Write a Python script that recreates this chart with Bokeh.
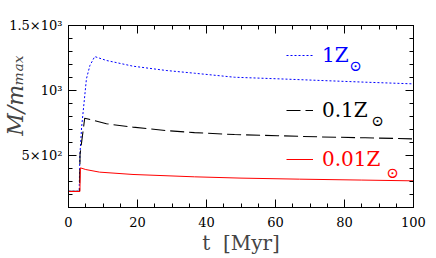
import math
from bokeh.plotting import figure
from bokeh.models import (LinearAxis, SingleIntervalTicker, Range1d, Legend, LegendItem,
                          Label, CustomJSTickFormatter)
from bokeh.embed import file_html
from bokeh.resources import INLINE

# ---- data ----
t_z1 = [0, 3.1, 3.3, 3.8, 5.2, 6.2, 7.6, 11, 18.7, 28.3, 36.5, 48.1, 60.6, 73.2, 86, 100]
m_z1 = [225, 225, 500, 718, 1090, 1192, 1261, 1231, 1187, 1154, 1133, 1102, 1090, 1077, 1064, 1051]

t_z01 = [0, 3.2, 3.35, 4.7, 11, 18.7, 28.3, 36.5, 48.1, 60.6, 73.2, 86, 100]
m_z01 = [225, 225, 510, 787, 744, 718, 692, 676, 661, 652, 643, 636, 628]

t_z001 = [0, 3.3, 3.45, 5, 9, 18.7, 36.5, 50, 67, 85, 100]
m_z001 = [223, 223, 405, 392, 372, 354, 336, 326, 318, 311, 305]

labels = ["1Z", "0.1Z", "0.01Z"]
y_tick_labels = {500: "5×10²", 1000: "10³", 1500: "1.5×10³"}
x_title = "t\u00a0\u00a0[Myr]"
y_title = "M/mₘₐₓ"

NBSP = "\u00a0"
W, H = 436, 258
p = figure(width=W, height=H, output_backend="svg", toolbar_location=None,
           x_range=Range1d(0, 100), y_range=Range1d(100, 1500),
           min_border_left=67, min_border_right=23, min_border_top=25, min_border_bottom=51,
           x_axis_location=None, y_axis_location=None)
p.xgrid.visible = False
p.ygrid.visible = False
p.outline_line_color = "black"
p.background_fill_color = "white"
p.border_fill_color = "white"

SERIF = "DejaVu Serif"

def style_axis(ax, ticker, show_labels, standoff):
    ax.ticker = ticker
    ax.major_tick_in = 8
    ax.major_tick_out = 0
    ax.minor_tick_in = 4
    ax.minor_tick_out = 0
    ax.axis_line_color = "black"
    ax.major_tick_line_color = "black"
    ax.minor_tick_line_color = "black"
    ax.major_label_text_font = SERIF
    ax.major_label_text_font_size = "13px"
    ax.major_label_text_color = "black"
    ax.major_label_standoff = standoff
    if not show_labels:
        ax.formatter = CustomJSTickFormatter(code="return ''")
        ax.major_label_text_font_size = "0px"
        ax.major_label_standoff = 0

xt = lambda: SingleIntervalTicker(interval=20, num_minor_ticks=4)
yt = lambda: SingleIntervalTicker(interval=500, num_minor_ticks=5)

xb = LinearAxis(); style_axis(xb, xt(), True, 9)
xb.axis_label = x_title
xb.axis_label_text_font = SERIF
xb.axis_label_text_font_style = "normal"
xb.axis_label_text_font_size = "20px"
xb.axis_label_standoff = 1

xa = LinearAxis(); style_axis(xa, xt(), False, 0)

yl = LinearAxis(); style_axis(yl, yt(), True, 6)
yl.major_label_overrides = y_tick_labels
yl.axis_label = NBSP * 6 + y_title
yl.axis_label_text_font = SERIF
yl.axis_label_text_font_style = "italic"
yl.axis_label_text_font_size = "22px"
yl.axis_label_standoff = -22

yr = LinearAxis(); style_axis(yr, yt(), False, 0)
p.add_layout(xb, "below")
p.add_layout(xa, "above")
p.add_layout(yl, "left")
p.add_layout(yr, "right")

r1 = p.line(t_z1, m_z1, line_color="#0000ff", line_width=1, line_dash="2 2")
r2 = p.line(t_z01, m_z01, line_color="black", line_width=1.1, line_dash="14 5")
r3 = p.line(t_z001, m_z001, line_color="#ff0000", line_width=1)

def add_legend(lbl, r, color, loc):
    lg = Legend(items=[LegendItem(label=lbl, renderers=[r])], location=loc,
                glyph_width=27, glyph_height=20, label_standoff=9,
                label_text_font=SERIF, label_text_font_size="20px",
                label_text_color=color, background_fill_alpha=0,
                border_line_color=None, padding=0, margin=0, spacing=0)
    p.add_layout(lg, "center")

add_legend(labels[0], r1, "#0000ff", (218, 140))
add_legend(labels[1], r2, "black", (218, 85))
add_legend(labels[2], r3, "#ff0000", (218, 36))

def sun(x, y, color):
    p.add_layout(Label(x=x, y=y, x_units="screen", y_units="screen", text="⊙",
                       text_font=SERIF, text_font_size="15px", text_color=color,
                       text_align="center", text_baseline="middle"))

sun(287, 142, "#0000ff")
sun(309, 87, "black")
sun(324, 35, "#ff0000")

open("out.html", "w").write(file_html(p, INLINE))
